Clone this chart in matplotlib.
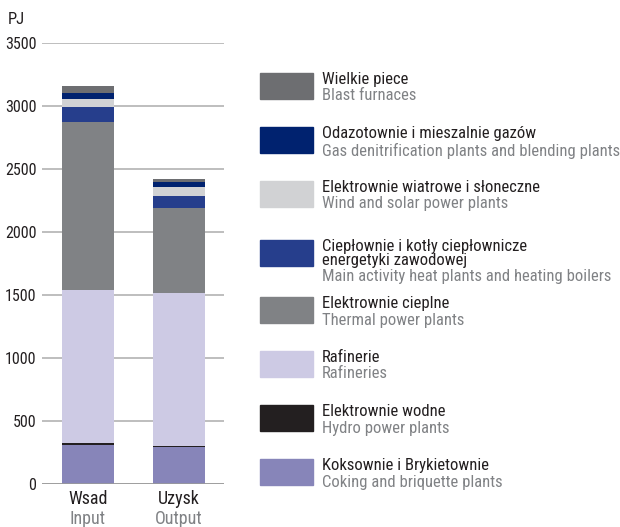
import matplotlib
matplotlib.use("Agg")
import matplotlib.pyplot as plt
from matplotlib import font_manager
from matplotlib.patches import Rectangle

names = {f.name for f in font_manager.fontManager.ttflist}
fam = None
for cand in ["Liberation Sans Narrow", "DejaVu Sans Condensed", "Roboto Condensed", "Open Sans Condensed"]:
    if cand in names:
        fam = cand
        break
if fam is None:
    fam = "DejaVu Sans"
plt.rcParams['font.family'] = [fam, 'DejaVu Sans']

categories = ["Wsad", "Uzysk"]
categories_en = ["Input", "Output"]

# stacked from bottom to top
series_pl = ["Koksownie i Brykietownie", "Elektrownie wodne", "Rafinerie", "Elektrownie cieplne",
             "Ciepłownie i kotły ciepłownicze\nenergetyki zawodowej", "Elektrownie wiatrowe i słoneczne",
             "Odazotownie i mieszalnie gazów", "Wielkie piece"]
series_en = ["Coking and briquette plants", "Hydro power plants", "Rafineries", "Thermal power plants",
             "Main activity heat plants and heating boilers", "Wind and solar power plants",
             "Gas denitrification plants and blending plants", "Blast furnaces"]
values = {
    "Koksownie": [310, 297],
    "Wodne": [14, 8],
    "Rafinerie": [1213, 1208],
    "Cieplne": [1337, 677],
    "Cieplownie": [120, 95],
    "Wiatrowe": [63, 72],
    "Odazotownie": [48, 40],
    "Wielkie": [56, 23],
}
colors = ["#8785b9", "#231f20", "#cdcae4", "#808285", "#263e8c", "#d1d2d4", "#00226f", "#6d6e71"]
yticks = [0, 500, 1000, 1500, 2000, 2500, 3000, 3500]

W, H = 620, 527
fig = plt.figure(figsize=(W / 100, H / 100), dpi=100)
ax = fig.add_axes([42 / W, 1 - 484 / H, (224 - 42) / W, (484 - 43) / H])

x = list(range(len(categories)))
bottom = [0, 0]
for (key, vals), c in zip(values.items(), colors):
    ax.bar(x, vals, width=0.571, bottom=bottom, color=c, zorder=3)
    bottom = [b + v for b, v in zip(bottom, vals)]

ax.set_xlim(-0.505, 1.495)
ax.set_ylim(0, 3500)
ax.set_yticks(yticks)
ax.set_yticklabels([str(t) for t in yticks], fontsize=11.5, color="#231f20")
ax.yaxis.grid(True, color="#b3b3b3", linewidth=1.2, zorder=0)
ax.tick_params(axis='y', length=0, pad=4)
ax.set_xticks([])
for s in ax.spines.values():
    s.set_visible(False)
ax.axhline(0, color="#9a9a9a", linewidth=1.2, zorder=4)
ax.set_axisbelow(True)

for xi, pl, en in zip(x, categories, categories_en):
    ax.text(xi, -6 / 441, pl, transform=ax.get_xaxis_transform(), ha='center', va='top',
            fontsize=13, color="#231f20")
    ax.text(xi, -26 / 441, en, transform=ax.get_xaxis_transform(), ha='center', va='top',
            fontsize=13, color="#808285")

fig.text(8 / W, 1 - 20 / H, "PJ", fontsize=12, va='center', ha='left', color="#231f20")

# legend (top to bottom)
tops = [73, 127, 181, 240, 297, 351, 405, 459]
for i, top in enumerate(tops):
    j = len(series_pl) - 1 - i
    fig.patches.append(Rectangle((260 / W, 1 - (top + 26) / H), 53 / W, 26 / H,
                                 transform=fig.transFigure, color=colors[j], figure=fig))
    pl = series_pl[j]
    nlines = pl.count("\n") + 1
    fig.text(322 / W, 1 - (top - 1) / H, pl, fontsize=12, va='top', ha='left',
             color="#231f20", linespacing=0.9)
    off = 16.5 if nlines == 1 else 30
    fig.text(322 / W, 1 - (top - 1 + off) / H, series_en[j],
             fontsize=12, va='top', ha='left', color="#808285")

fig.savefig("out.png", dpi=100)
